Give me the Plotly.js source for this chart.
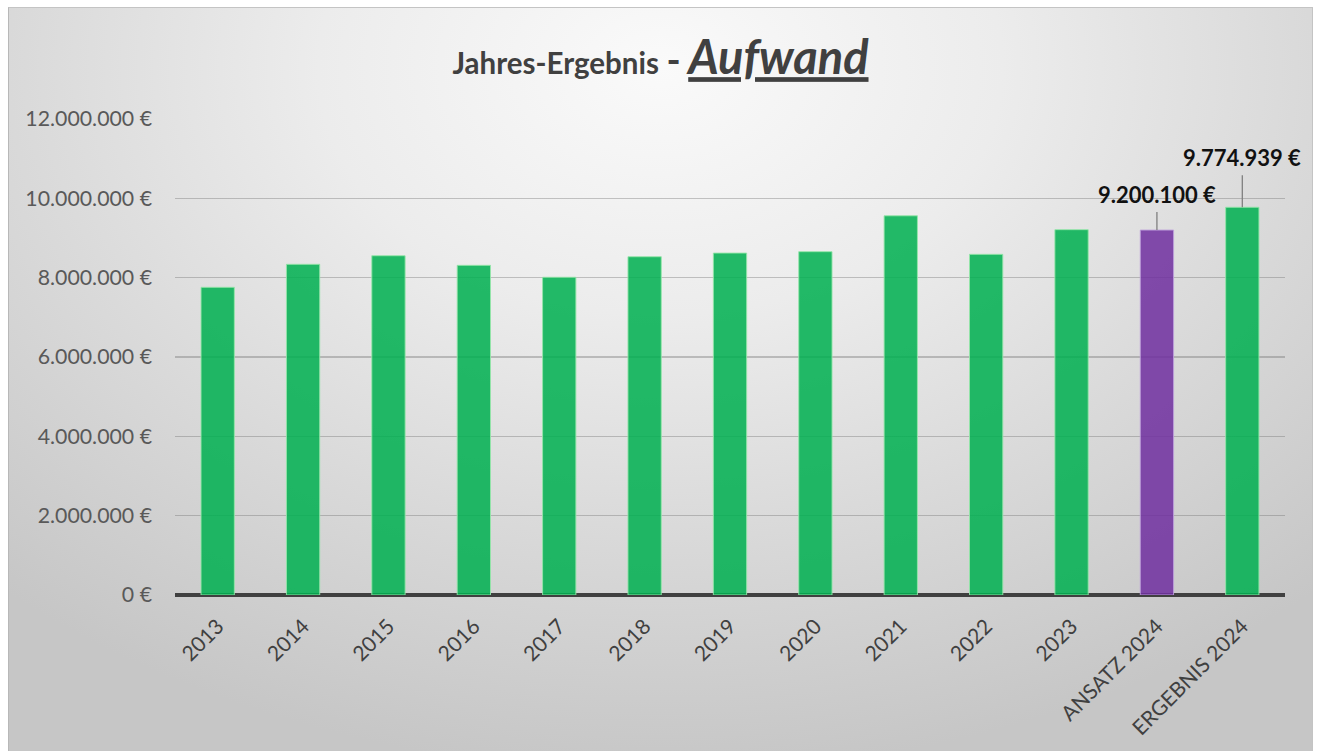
<!DOCTYPE html>
<html>
<head>
<meta charset="utf-8">
<script src="https://cdn.plot.ly/plotly-3.0.1.min.js"></script>
<style>
  html, body { margin:0; padding:0; background:#ffffff; }
  #wrap { position:relative; width:1321px; height:751px; overflow:hidden; }
  #bg { position:absolute; left:8px; top:7px; width:1305px; height:744px;
        background: radial-gradient(ellipse 75% 95% at 50% 8%, #fafafa 0%, #ececec 35%, #dadada 65%, #c6c6c6 100%);
        border-left:1px solid #b8b8b8; border-top:1px solid #c4c4c4; border-right:1px solid #c4c4c4; box-sizing:border-box; }
  #chart { position:absolute; left:0; top:0; width:1321px; height:751px; }
</style>
</head>
<body>
<div id="wrap">
  <div id="bg"></div>
  <div id="chart"></div>
</div>
<script>
const categories = ["2013","2014","2015","2016","2017","2018","2019","2020","2021","2022","2023","ANSATZ 2024","ERGEBNIS 2024"];
const values = [7757000, 8337000, 8553000, 8311000, 8010000, 8528000, 8620000, 8655000, 9560000, 8588000, 9210000, 9200100, 9774939];
const barColors = ["green","green","green","green","green","green","green","green","green","green","green","purple","green"];
const labeledCategories = ["ANSATZ 2024","ERGEBNIS 2024"];
const yTickVals = [0, 2000000, 4000000, 6000000, 8000000, 10000000, 12000000];
const yTickText = ["0 €","2.000.000 €","4.000.000 €","6.000.000 €","8.000.000 €","10.000.000 €","12.000.000 €"];

const colorMap = { green: "rgba(0,176,80,0.86)", purple: "rgba(112,48,160,0.86)" };
const lineMap = { green: "rgba(150,230,170,0.9)", purple: "rgba(190,160,220,0.9)" };
const FONT = "Lato, 'Open Sans', sans-serif";

function fmtEuro(v) {
  return String(Math.round(v)).replace(/\B(?=(\d{3})+(?!\d))/g, ".") + " €";
}

const trace = {
  type: "bar",
  x: categories,
  y: values,
  marker: {
    color: barColors.map(c => colorMap[c]),
    line: { color: barColors.map(c => lineMap[c]), width: 1 }
  },
  hoverinfo: "x+y"
};

const annotations = labeledCategories.map((cat, k) => {
  const i = categories.indexOf(cat);
  return {
    x: cat, y: values[i], xref: "x", yref: "y",
    text: "<b>" + fmtEuro(values[i]) + "</b>",
    showarrow: true, arrowhead: 0, arrowwidth: 1.3, arrowcolor: "#7f7f7f",
    ax: 0, ay: k === 0 ? -36 : -50, standoff: 0, startstandoff: 3,
    font: { family: FONT, size: 22, color: "#111111" }
  };
});

const layout = {
  width: 1321, height: 751,
  paper_bgcolor: "rgba(0,0,0,0)",
  plot_bgcolor: "rgba(0,0,0,0)",
  margin: { l: 175, r: 36, t: 119, b: 156, pad: 0 },
  bargap: 0.61,
  showlegend: false,
  title: {
    text: "<b>Jahres-Ergebnis</b> <span style='font-size:38px'><b>-</b></span> <span style='font-size:47px'><b><i><u>Aufwand</u></i></b></span>",
    font: { family: FONT, size: 29.5, color: "#404040" },
    x: 0.5, xanchor: "center", xref: "container",
    y: 0.915, yanchor: "middle", yref: "container"
  },
  xaxis: {
    type: "category",
    range: [-0.5, categories.length - 0.5],
    autorange: false,
    tickangle: -45,
    tickfont: { family: FONT, size: 21, color: "#404040" },
    showgrid: false, showline: false, zeroline: false,
    ticks: "", ticklabelstandoff: 14,
    fixedrange: true
  },
  yaxis: {
    range: [0, 12000000],
    autorange: false,
    tickvals: yTickVals, ticktext: yTickText,
    tickfont: { family: FONT, size: 21.3, color: "#595959" },
    showgrid: true, gridcolor: "rgba(110,110,110,0.38)", gridwidth: 1.6,
    zeroline: true, zerolinecolor: "#404040", zerolinewidth: 4,
    showline: false, ticks: "", ticklabelstandoff: 22,
    fixedrange: true
  },
  annotations: annotations
};

Plotly.newPlot("chart", [trace], layout, { displayModeBar: false, staticPlot: true });
</script>
</body>
</html>
